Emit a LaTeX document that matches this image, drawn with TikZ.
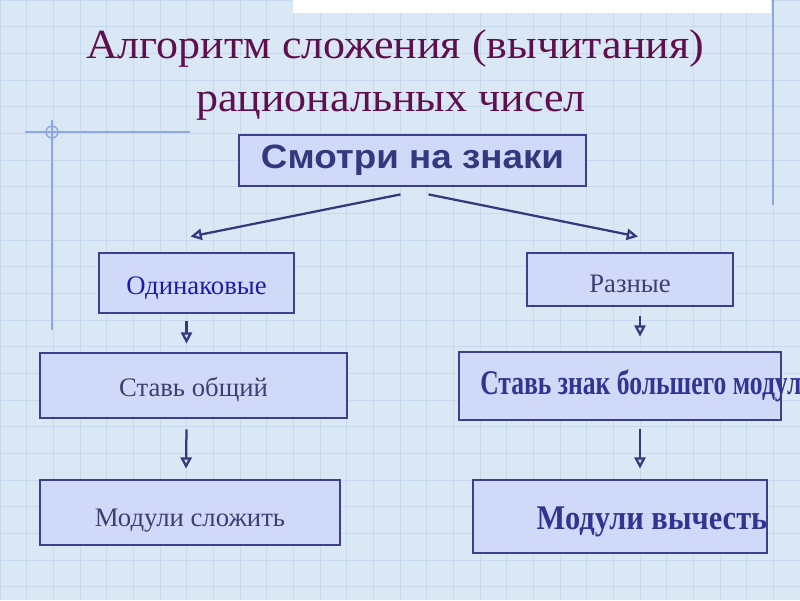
\documentclass[tikz,border=0pt]{standalone}
\usepackage{fontspec}
\setmainfont{Liberation Serif}
\newfontfamily\arialfont{Liberation Sans}
\usetikzlibrary{arrows.meta,calc}
\definecolor{bgblue}{HTML}{DAE8F5}
\definecolor{gridblue}{HTML}{C6D9EF}
\definecolor{decoline}{HTML}{8FA8E0}
\definecolor{titlecol}{HTML}{5E0F4E}
\definecolor{boxline}{HTML}{3B3F8C}
\definecolor{boxfill}{HTML}{D1D9F9}
\definecolor{arrline}{HTML}{34397E}
\definecolor{textblue}{HTML}{1C1CA8}
\definecolor{textgray}{HTML}{3E3E70}
\definecolor{textbold}{HTML}{2F3590}
\tikzset{
  box/.style={draw=boxline, line width=2pt, fill=boxfill, inner sep=0pt},
  arr/.style={draw=arrline, line width=1.6pt, -{Triangle[open, length=8pt, width=8pt, fill=boxfill]}},
  plain/.style={font=\fontsize{19}{21}\selectfont},
  titletext/.style={anchor=base, text=titlecol, font=\fontsize{29.5}{32}\selectfont},
}
\begin{document}
\begin{tikzpicture}[x=0.025cm, y=-0.025cm]
\clip (0,0) rectangle (800,600);
\fill[bgblue] (0,0) rectangle (800,600);
\draw[gridblue, line width=0.6pt, step=0.6667cm] (0,0) grid (800,600);
\fill[white] (293,0) rectangle (771,13);
\draw[decoline, line width=1pt] (773,0) -- (773,205);
\draw[decoline, line width=1pt] (25,132) -- (190,132);
\draw[decoline, line width=1pt] (52,120) -- (52,330);
\draw[decoline, line width=1pt] (52,132) circle (6);

% title
\node[titletext] (title1) at (395,58) {\scalebox{1.06}[1]{Алгоритм сложения (вычитания)}};
\node[titletext] (title2) at (391,111) {\scalebox{1.06}[1]{рациональных чисел}};

% boxes
\node[box, minimum width=8.675cm, minimum height=1.275cm, text=arrline,
      font=\arialfont\bfseries\fontsize{24}{26}\selectfont] (signs) at (412.5,160.5) {\scalebox{1.09}[1]{Смотри на знаки}};
\node[box, plain, text=textblue, text height=20pt, minimum width=4.875cm, minimum height=1.5cm] (same) at (196.5,283) {Одинаковые};
\node[box, plain, text=textgray, text height=18pt, minimum width=5.15cm, minimum height=1.325cm] (diff) at (630,279.5) {Разные};
\node[box, plain, text=textgray, text height=20pt, minimum width=7.675cm, minimum height=1.625cm] (common) at (193.5,385.5) {Ставь общий};
\node[box, minimum width=8.05cm, minimum height=1.7cm] (bigger) at (620,386) {};
\node[anchor=west, inner sep=0pt, text=textbold, font=\bfseries\fontsize{24.6}{26}\selectfont]
  (biggertxt) at (480,386) {\scalebox{0.74}[1]{Ставь знак большего модуля}};
\node[box, plain, text=textgray, text height=24.5pt, minimum width=7.5cm, minimum height=1.625cm] (addmod) at (190,512.5) {Модули сложить};
\node[box, minimum width=7.35cm, minimum height=1.825cm] (submod) at (620,516.5) {};
\node[inner sep=0pt, text=textbold, font=\bfseries\fontsize{24.6}{26}\selectfont]
  (submodtxt) at (652,522) {\scalebox{0.88}[1]{Модули вычесть}};

% arrows
\draw[arr] ($(signs.south)+(-12,7)$) -- ($(same.north)+(-6,-15)$);
\draw[arr] ($(signs.south)+(16,7)$) -- ($(diff.north)+(8,-15)$);
\draw[arr] ($(same.south)+(-10,7)$) -- ($(common.north)+(-7,-8)$);
\draw[arr] ($(common.south)+(-7,10)$) -- ($(addmod.north)+(-4,-10)$);
\draw[arr] ($(diff.south)+(10,9)$) -- ($(bigger.north)+(20,-14)$);
\draw[arr] ($(bigger.south)+(20,8)$) -- ($(submod.north)+(20,-10)$);
\end{tikzpicture}
\end{document}
